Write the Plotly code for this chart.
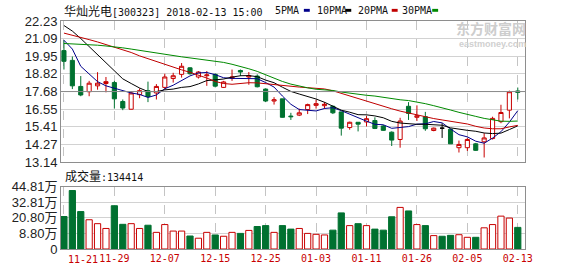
import plotly.graph_objects as go

# ---------------- data ----------------
STOCK_TITLE = "华灿光电"
TITLE_REST = "[300323] 2018-02-13 15:00"
VOLUME_TITLE = "成交量"
LAST_VOLUME = "134414"

DAY_INDEX = list(range(55))
DATE_TICK_POS = [0, 6, 12, 18, 24, 30, 36, 42, 48, 54]
DATE_TICK_TEXT = ["11-21", "11-29", "12-07", "12-15", "12-25",
                  "01-03", "01-11", "01-26", "02-05", "02-13"]

OPEN = [20.32, 19.69, 18.01, 17.67, 18.05, 18.20, 18.26, 17.04, 16.54, 17.48,
        17.74, 17.59, 17.95, 18.52, 18.79, 19.21, 18.62, 18.70, 18.79, 17.95,
        18.54, 19.04, 18.62, 18.68, 17.84, 17.07, 17.21, 16.10, 16.16, 16.52,
        16.79, 16.77, 16.73, 16.37, 15.36, 15.70, 15.72, 15.81, 15.46, 15.06,
        14.59, 16.73, 16.02, 16.06, 15.17, 15.32, 15.25, 14.06, 14.06, 14.31,
        14.44, 14.65, 15.74, 16.48, 17.72]
HIGH = [20.99, 19.94, 18.68, 18.37, 18.93, 18.62, 18.37, 17.17, 17.70, 17.88,
        18.32, 18.16, 18.83, 18.89, 19.52, 19.25, 19.00, 19.00, 18.85, 18.37,
        19.10, 19.10, 18.94, 18.79, 17.89, 17.32, 17.21, 16.31, 16.58, 16.90,
        17.15, 17.00, 16.79, 16.37, 15.74, 15.70, 16.10, 16.02, 15.53, 15.11,
        15.99, 17.00, 16.79, 16.37, 15.36, 15.64, 15.28, 14.52, 14.69, 14.37,
        15.00, 16.06, 16.83, 17.74, 17.94]
LOW = [19.10, 17.84, 17.38, 17.38, 17.80, 17.63, 16.58, 16.48, 16.52, 17.25,
       17.00, 17.17, 17.80, 18.26, 18.58, 18.77, 18.52, 18.05, 17.95, 17.91,
       18.37, 18.68, 18.12, 17.95, 17.00, 16.84, 16.00, 15.85, 16.10, 16.23,
       16.58, 16.58, 16.23, 14.84, 15.22, 15.11, 15.43, 15.26, 15.15, 14.17,
       14.06, 15.85, 15.78, 15.15, 15.12, 14.69, 14.31, 13.75, 13.85, 13.85,
       13.43, 14.59, 15.64, 15.95, 17.17]
CLOSE = [19.63, 18.05, 17.46, 18.22, 18.22, 18.32, 17.21, 16.62, 17.59, 17.74,
         17.36, 18.01, 18.62, 18.70, 19.31, 18.83, 18.94, 18.75, 18.03, 18.30,
         18.62, 18.94, 18.70, 17.99, 17.07, 17.15, 16.02, 16.06, 16.31, 16.84,
         16.90, 16.86, 16.31, 15.32, 15.70, 15.58, 15.93, 15.30, 15.18, 14.55,
         15.78, 16.27, 16.12, 15.28, 15.32, 15.32, 14.31, 14.27, 14.59, 13.89,
         14.69, 15.95, 16.33, 17.67, 17.63]

MA5 = [20.99, 20.42, 19.31, 18.79, 18.32, 18.05, 17.89, 17.72, 17.59, 17.50,
       17.30, 17.46, 17.86, 18.09, 18.40, 18.69, 18.88, 18.91, 18.77, 18.57,
       18.53, 18.53, 18.52, 18.51, 18.26, 17.97, 17.39, 16.86, 16.52, 16.48,
       16.43, 16.59, 16.64, 16.45, 16.22, 15.95, 15.77, 15.57, 15.54, 15.31,
       15.35, 15.42, 15.58, 15.60, 15.75, 15.66, 15.27, 14.90, 14.76, 14.48,
       14.35, 14.68, 15.09, 15.71, 16.45]
MA10 = [21.94, 21.58, 21.10, 20.57, 20.05, 19.56, 19.04, 18.50, 18.20, 17.91,
        17.68, 17.68, 17.79, 17.84, 17.95, 18.00, 18.17, 18.39, 18.43, 18.49,
        18.61, 18.70, 18.71, 18.64, 18.42, 18.25, 17.96, 17.69, 17.52, 17.37,
        17.20, 16.99, 16.75, 16.48, 16.35, 16.19, 16.18, 16.11, 15.99, 15.76,
        15.65, 15.59, 15.57, 15.57, 15.53, 15.51, 15.34, 15.24, 15.18, 15.12,
        15.01, 14.97, 15.00, 15.23, 15.47]
MA20 = [21.45, 21.32, 21.18, 21.03, 20.88, 20.72, 20.57, 20.40, 20.20, 19.98,
        19.80, 19.60, 19.40, 19.22, 19.08, 18.92, 18.75, 18.55, 18.33, 18.20,
        18.15, 18.19, 18.25, 18.24, 18.18, 18.12, 18.06, 18.04, 17.97, 17.93,
        17.90, 17.85, 17.73, 17.56, 17.38, 17.22, 17.07, 16.90, 16.75, 16.57,
        16.42, 16.29, 16.16, 16.03, 15.94, 15.85, 15.76, 15.67, 15.59, 15.44,
        15.33, 15.28, 15.28, 15.40, 15.50]
MA30 = [20.78, 20.76, 20.73, 20.70, 20.67, 20.62, 20.57, 20.50, 20.42, 20.33,
        20.24, 20.15, 20.06, 19.98, 19.92, 19.85, 19.78, 19.73, 19.65, 19.56,
        19.44, 19.31, 19.15, 18.98, 18.76, 18.55, 18.33, 18.16, 18.03, 17.92,
        17.83, 17.79, 17.75, 17.65, 17.57, 17.48, 17.44, 17.39, 17.31, 17.21,
        17.15, 17.10, 17.01, 16.90, 16.77, 16.65, 16.49, 16.34, 16.23, 16.08,
        15.95, 15.85, 15.77, 15.76, 15.78]

# volume in 万 (10k lots)
VOLUME = [21.8, 41.8, 25.6, 19.3, 16.3, 12.6, 30.1, 15.8, 16.3, 12.6,
          15.1, 9.6, 15.6, 10.6, 10.6, 6.8, 5.1, 9.6, 7.6, 6.6,
          9.6, 8.8, 11.1, 14.1, 14.8, 9.6, 14.8, 12.1, 12.6, 8.8,
          8.1, 7.6, 11.3, 24.6, 14.8, 16.3, 14.8, 12.1, 11.3, 21.6,
          28.8, 26.1, 15.6, 14.8, 7.1, 6.6, 7.3, 7.8, 5.8, 5.8,
          13.1, 15.6, 22.1, 20.6, 13.44]

PRICE_TICKS = [13.14, 14.27, 15.41, 16.55, 17.68, 18.82, 19.95, 21.09, 22.23]
VOL_TICK_VALS = [-3.20, 8.80, 20.80, 32.81, 44.81]
VOL_TICK_TEXT = ["0", "8.80万", "20.80万", "32.81万", "44.81万"]

MA_NAMES = ["5PMA", "10PMA", "20PMA", "30PMA"]

# ---------------- styles ----------------
RED = "#c80000"
GREEN = "#007130"
MA_COLORS = ["#00008b", "#000000", "#c00000", "#008a00"]
GRID = "#d2d2d2"
FRAME = "#8e8e8e"
W, H = 578, 276
ML, MR, MT, MB = 55, 53, 21, 20
PW, PH = W - ML - MR, H - MT - MB


def px_x(p):
    return (p - ML) / PW


def px_y(p):
    return (H - MB - p) / PH


LABEL_FONT = "Liberation Sans, Noto Sans CJK SC"
MONO = "DejaVu Sans Mono, Noto Sans CJK SC"

fig = go.Figure()

# candles
nd = [i for i in DAY_INDEX if OPEN[i] != CLOSE[i]]
dj = [i for i in DAY_INDEX if OPEN[i] == CLOSE[i]]
fig.add_trace(go.Candlestick(
    x=[DAY_INDEX[i] for i in nd], open=[OPEN[i] for i in nd],
    high=[HIGH[i] for i in nd], low=[LOW[i] for i in nd],
    close=[CLOSE[i] for i in nd],
    increasing=dict(line=dict(color=RED, width=1), fillcolor="white"),
    decreasing=dict(line=dict(color=GREEN, width=1), fillcolor=GREEN),
    whiskerwidth=0, hoverinfo="skip", xaxis="x", yaxis="y"))
if dj:
    fig.add_trace(go.Candlestick(
        x=[DAY_INDEX[i] for i in dj], open=[OPEN[i] for i in dj],
        high=[HIGH[i] for i in dj], low=[LOW[i] for i in dj],
        close=[CLOSE[i] for i in dj],
        increasing=dict(line=dict(color="black", width=1), fillcolor="black"),
        decreasing=dict(line=dict(color="black", width=1), fillcolor="black"),
        whiskerwidth=0, hoverinfo="skip", xaxis="x", yaxis="y"))

for ma, col in zip([MA5, MA10, MA20, MA30], MA_COLORS):
    fig.add_trace(go.Scatter(x=DAY_INDEX, y=ma, mode="lines",
                             line=dict(color=col, width=1),
                             hoverinfo="skip", xaxis="x", yaxis="y"))

# volume bars
vol_base = VOL_TICK_VALS[0]
up = [CLOSE[i] > OPEN[i] for i in DAY_INDEX]
fig.add_trace(go.Bar(
    x=DAY_INDEX, y=[v - vol_base for v in VOLUME], base=vol_base, width=0.74,
    marker=dict(color=["white" if u else GREEN for u in up],
                line=dict(color=[RED if u else GREEN for u in up], width=1)),
    hoverinfo="skip", xaxis="x2", yaxis="y2"))

xr = [-0.35, 54.86]
common_x = dict(range=xr, tickvals=DATE_TICK_POS, showgrid=True, griddash="dash",
                gridcolor="#c4c4c4", gridwidth=1, showline=True, mirror=True,
                linecolor=FRAME, linewidth=1, zeroline=False, ticks="",
                fixedrange=True)
fig.update_layout(
    width=W, height=H, margin=dict(l=ML, r=MR, t=MT, b=MB),
    paper_bgcolor="white", plot_bgcolor="white", showlegend=False,
    xaxis=dict(**common_x, anchor="y", showticklabels=False,
               rangeslider=dict(visible=False)),
    xaxis2=dict(**common_x, anchor="y2",
                ticktext=[""] + DATE_TICK_TEXT[1:],
                tickfont=dict(family=MONO, size=10, color=RED)),
    yaxis=dict(domain=[px_y(166.3), 1], range=[PRICE_TICKS[0], PRICE_TICKS[-1]],
               tickvals=PRICE_TICKS, ticktext=[f"{v:.2f}" for v in PRICE_TICKS],
               showgrid=True, gridcolor=GRID, showline=True, mirror=True,
               linecolor=FRAME, zeroline=False, ticks="",
               tickfont=dict(family=LABEL_FONT, size=13, color="#222222")),
    yaxis2=dict(domain=[0, px_y(191.7)], range=[VOL_TICK_VALS[0], VOL_TICK_VALS[-1]],
                tickvals=VOL_TICK_VALS, ticktext=VOL_TICK_TEXT,
                showgrid=True, gridcolor=GRID, showline=True, mirror=True,
                linecolor=FRAME, zeroline=False, ticks="",
                tickfont=dict(family=LABEL_FONT, size=13, color="#222222")),
)

# darker middle line of price panel
fig.add_shape(type="line", xref="x domain", x0=0, x1=1, yref="y",
              y0=PRICE_TICKS[4], y1=PRICE_TICKS[4],
              line=dict(color="#8a8a8a", width=1))

ann = []
ann.append(dict(xref="paper", yref="paper", x=px_x(56), y=px_y(10.5),
                xanchor="left", yanchor="middle", showarrow=False,
                text=f'<span style="font-family:Noto Sans CJK SC;font-size:12px">{STOCK_TITLE}</span>{TITLE_REST}',
                font=dict(family=MONO, size=10, color="#111111")))
leg_text_x = [270, 312, 354, 398]
leg_mark_x = [301, 343, 390, 431]
for name, col, tx, mx in zip(MA_NAMES, MA_COLORS, leg_text_x, leg_mark_x):
    ann.append(dict(xref="paper", yref="paper", x=px_x(tx), y=px_y(10.5),
                    xanchor="left", yanchor="middle", showarrow=False, text=name,
                    font=dict(family=MONO, size=10, color="#111111")))
    fig.add_shape(type="rect", xref="paper", yref="paper",
                  x0=px_x(mx), x1=px_x(mx + 6), y0=px_y(11.5), y1=px_y(8.5),
                  line=dict(width=0), fillcolor=col)
ann.append(dict(xref="paper", yref="paper", x=px_x(57), y=px_y(180),
                xanchor="left", yanchor="middle", showarrow=False,
                text=f'<span style="font-family:Noto Sans CJK SC;font-size:12px">{VOLUME_TITLE}</span>:{LAST_VOLUME}',
                font=dict(family=MONO, size=10, color="#111111")))
ann.append(dict(xref="x2", yref="paper", x=DATE_TICK_POS[0] + 0.3, y=px_y(267),
                xanchor="left", yanchor="middle", showarrow=False,
                text=DATE_TICK_TEXT[0], font=dict(family=MONO, size=10, color=RED)))
# watermark
ann.append(dict(xref="paper", yref="paper", x=px_x(527), y=px_y(28),
                xanchor="right", yanchor="middle", showarrow=False,
                text="<b>东方财富网</b>", borderpad=0,
                font=dict(family="Noto Sans CJK SC", size=14, color="#cdcdcd")))
ann.append(dict(xref="paper", yref="paper", x=px_x(527), y=px_y(45),
                xanchor="right", yanchor="middle", showarrow=False,
                text="<b>eastmoney.com</b>", borderpad=0,
                font=dict(family="Liberation Sans", size=9, color="#d0d0d0")))
fig.update_layout(annotations=ann)

fig.write_html("out.html")
